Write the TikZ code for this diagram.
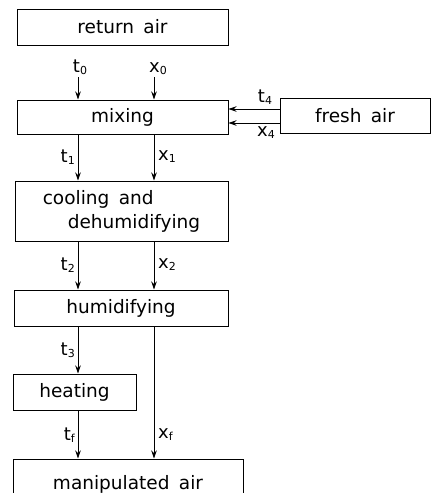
\documentclass[tikz,border=0pt]{standalone}
\usepackage{fontspec}
\setmainfont{DejaVu Sans}[WordSpace=1.6]
\usetikzlibrary{arrows.meta}
\newcommand{\lbl}[2]{{\fontsize{18}{18}\selectfont #1\raisebox{-2pt}{\fontsize{11}{11}\selectfont #2}}}
\begin{document}
\begin{tikzpicture}[x=1pt,y=-1pt,
  box/.style={draw,line width=1pt,inner sep=0pt,font=\fontsize{18.5}{24}\selectfont},
  flow/.style={line width=0.9pt,-{Stealth[length=8pt,width=5.5pt]}},
  lab/.style={inner sep=1pt}]
\useasboundingbox (0,0) rectangle (431,493);
% boxes
\node[box,minimum width=211pt,minimum height=36pt] (ret) at (122.5,27) {return air};
\node[box,minimum width=211pt,minimum height=34pt] (mix) at (122.5,117) {mixing};
\node[box,minimum width=150pt,minimum height=35pt] (fresh) at (355,115.5) {fresh air};
\node[box,minimum width=213pt,minimum height=60pt,align=left] (cool) at (121.5,211) {cooling and\\\hspace*{25pt}dehumidifying};
\node[box,minimum width=214pt,minimum height=36pt] (hum) at (121,308) {humidifying};
\node[box,minimum width=123pt,minimum height=36pt] (heat) at (74.5,392) {heating};
\node[box,minimum width=230pt,minimum height=50pt,text depth=0pt] (man) at (128,484) {\raisebox{4pt}{manipulated air}};
% coordinates
\coordinate (t0s) at (78,77);
\coordinate (x0s) at (154,77);
\coordinate (cT) at (78,0);
\coordinate (cX) at (154,0);
\coordinate (r4) at (0,109);
\coordinate (r5) at (0,123);
% arrows
\draw[flow] (t0s) -- (t0s |- mix.north);
\draw[flow] (x0s) -- (x0s |- mix.north);
\draw[flow] (fresh.west |- r4) -- (mix.east |- r4);
\draw[flow] (fresh.west |- r5) -- (mix.east |- r5);
\draw[flow] (cT |- mix.south) -- (cT |- cool.north);
\draw[flow] (cX |- mix.south) -- (cX |- cool.north);
\draw[flow] (cT |- cool.south) -- (cT |- hum.north);
\draw[flow] (cX |- cool.south) -- (cX |- hum.north);
\draw[flow] (cT |- hum.south) -- (cT |- heat.north);
\draw[flow] (cT |- heat.south) -- (cT |- man.north);
\draw[flow] (cX |- hum.south) -- (cX |- man.north);
% labels
\node[lab,anchor=south] (lt0) at (80,76) {\lbl{t}{0}};
\node[lab,anchor=south] (lx0) at (158,76) {\lbl{x}{0}};
\node[lab,anchor=south] (lt4) at (265,106) {\lbl{t}{4}};
\node[lab,anchor=north] (lx4) at (266,125) {\lbl{x}{4}};
\node[lab,anchor=east] (lt1) at (76,157) {\lbl{t}{1}};
\node[lab,anchor=west] (lx1) at (157,157) {\lbl{x}{1}};
\node[lab,anchor=east] (lt2) at (76,265) {\lbl{t}{2}};
\node[lab,anchor=west] (lx2) at (157,265) {\lbl{x}{2}};
\node[lab,anchor=east] (lt3) at (76,350) {\lbl{t}{3}};
\node[lab,anchor=east] (ltf) at (76,435) {\lbl{t}{f}};
\node[lab,anchor=west] (lxf) at (157,435) {\lbl{x}{f}};
\end{tikzpicture}
\end{document}
